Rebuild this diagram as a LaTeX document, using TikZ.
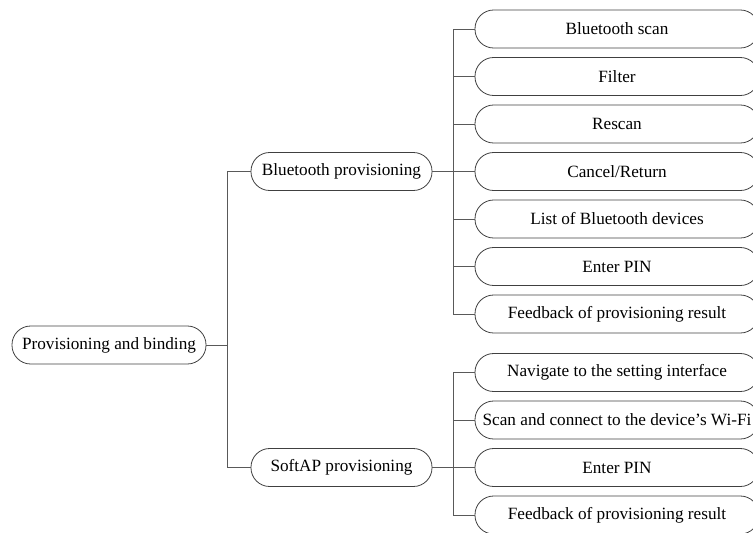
\documentclass[tikz,border=0pt]{standalone}
\usepackage{fontspec}
\setmainfont{Liberation Serif}
\usetikzlibrary{positioning}

\tikzset{
    pill/.style={draw=black!75, line width=0.6pt, rounded corners=14pt,
        minimum height=28.5pt, inner sep=0pt, font=\fontsize{12.9}{15}\selectfont},
    leaf/.style={pill, minimum width=213pt,
        execute at begin node=\hbox to 0pt\bgroup\hss,
        execute at end node=\hss\egroup},
    link/.style={draw=black!65, line width=0.6pt}
}

\begin{document}
\begin{tikzpicture}[x=0.75pt, y=-0.75pt]

        \useasboundingbox (0,0) rectangle (753,532);

        % --- Root ---
        \node[pill, minimum width=145.5pt] (root) at (109,345) {Provisioning and binding};

        % --- Two branches ---
        \node[pill, minimum width=135.75pt] (bt) at (341.5,171.5) {Bluetooth provisioning};
        \node[pill, minimum width=135.75pt] (sap) at (341.5,467.5) {SoftAP provisioning};

        % Root to branches
        \draw[link] (root.east) -- ++(22,0);
        \draw[link] (bt.west) -- ++(-23,0) |- (sap.west);

        % --- Bluetooth provisioning steps ---
        \foreach \lbl [count=\i] in {Bluetooth scan, Filter, Rescan, Cancel/Return,
                List of Bluetooth devices, Enter PIN, Feedback of provisioning result}
            \node[leaf] (b\i) at (617, {29+47.5*(\i-1)}) {\lbl};

        \draw[link] (b1.west) -- ++(-21,0) |- (b7.west);
        \foreach \i in {2,3,5,6}
            \draw[link] (b\i.west) -- ++(-21,0);
        \draw[link] (bt.east) -- (b4.west);

        % --- SoftAP provisioning steps ---
        \foreach \lbl [count=\i] in {Navigate to the setting interface,
                Scan and connect to the device’s Wi-Fi, Enter PIN,
                Feedback of provisioning result}
            \node[leaf] (s\i) at (617, {372.5+47.5*(\i-1)}) {\lbl};

        \draw[link] (s1.west) -- ++(-21,0) |- (s4.west);
        \draw[link] (s2.west) -- ++(-21,0);
        \draw[link] (sap.east) -- (s3.west);

    \end{tikzpicture}
\end{document}
